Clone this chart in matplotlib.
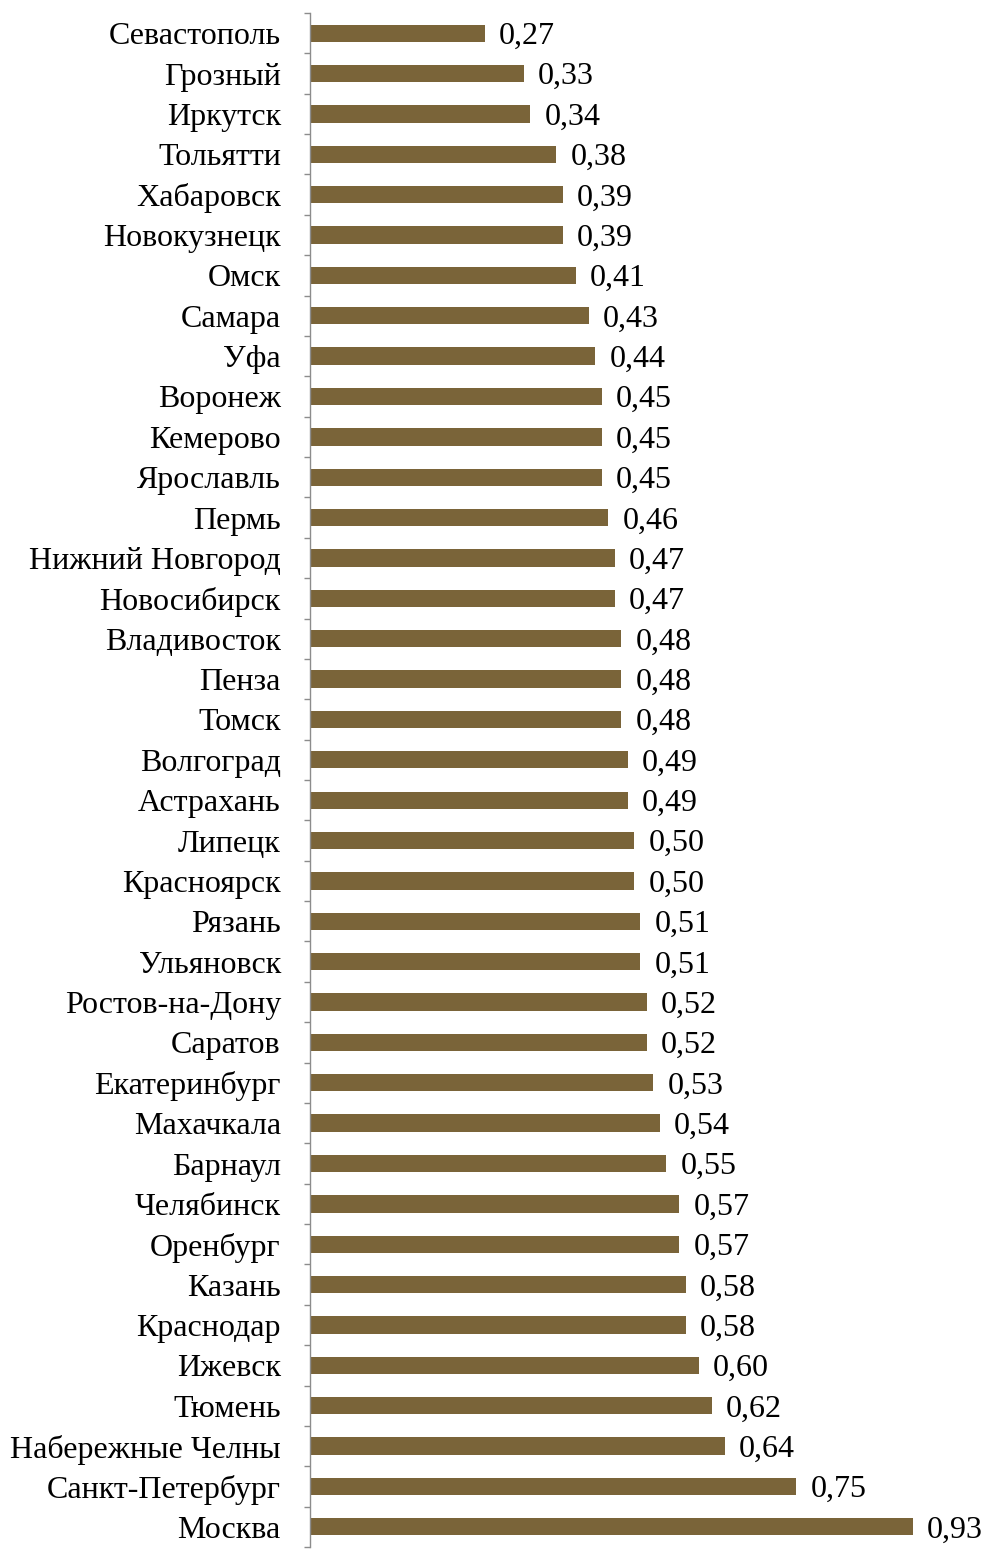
import matplotlib
matplotlib.use("Agg")
import matplotlib.pyplot as plt
import numpy as np

cities = ["Севастополь", "Грозный", "Иркутск", "Тольятти", "Хабаровск", "Новокузнецк",
          "Омск", "Самара", "Уфа", "Воронеж", "Кемерово", "Ярославль", "Пермь",
          "Нижний Новгород", "Новосибирск", "Владивосток", "Пенза", "Томск", "Волгоград",
          "Астрахань", "Липецк", "Красноярск", "Рязань", "Ульяновск", "Ростов-на-Дону",
          "Саратов", "Екатеринбург", "Махачкала", "Барнаул", "Челябинск", "Оренбург",
          "Казань", "Краснодар", "Ижевск", "Тюмень", "Набережные Челны",
          "Санкт-Петербург", "Москва"]
values = [0.27, 0.33, 0.34, 0.38, 0.39, 0.39, 0.41, 0.43, 0.44, 0.45, 0.45, 0.45, 0.46,
          0.47, 0.47, 0.48, 0.48, 0.48, 0.49, 0.49, 0.50, 0.50, 0.51, 0.51, 0.52,
          0.52, 0.53, 0.54, 0.55, 0.57, 0.57, 0.58, 0.58, 0.60, 0.62, 0.64,
          0.75, 0.93]

plt.rcParams['font.family'] = ['Liberation Serif', 'DejaVu Serif']
fs = 23

fig = plt.figure(figsize=(9.85, 15.5), dpi=100)
ax = fig.add_axes([310 / 985, 3 / 1550, 648 / 985, 1534 / 1550])

y = np.arange(len(cities))
ax.barh(y, values, height=0.43, color='#7a6439')
for yi, v in zip(y, values):
    ax.text(v + 0.022, yi + 0.08, f"{v:.2f}".replace('.', ','), va='center', ha='left',
            fontsize=fs, clip_on=False)

ax.set_xlim(0, 1.0)
ax.set_ylim(len(cities) - 0.5, -0.5)
ax.set_yticks(y)
ax.set_yticklabels(cities, fontsize=fs)
ax.set_yticks(np.arange(len(cities) + 1) - 0.5, minor=True)
ax.tick_params(axis='y', which='major', length=0, pad=21)
ax.tick_params(axis='y', which='minor', length=4, color='#8c8c8c', width=1)
ax.set_xticks([])
for s in ['top', 'right', 'bottom']:
    ax.spines[s].set_visible(False)
ax.spines['left'].set_color('#8c8c8c')
ax.spines['left'].set_linewidth(1)

fig.savefig("out.png", dpi=100)
